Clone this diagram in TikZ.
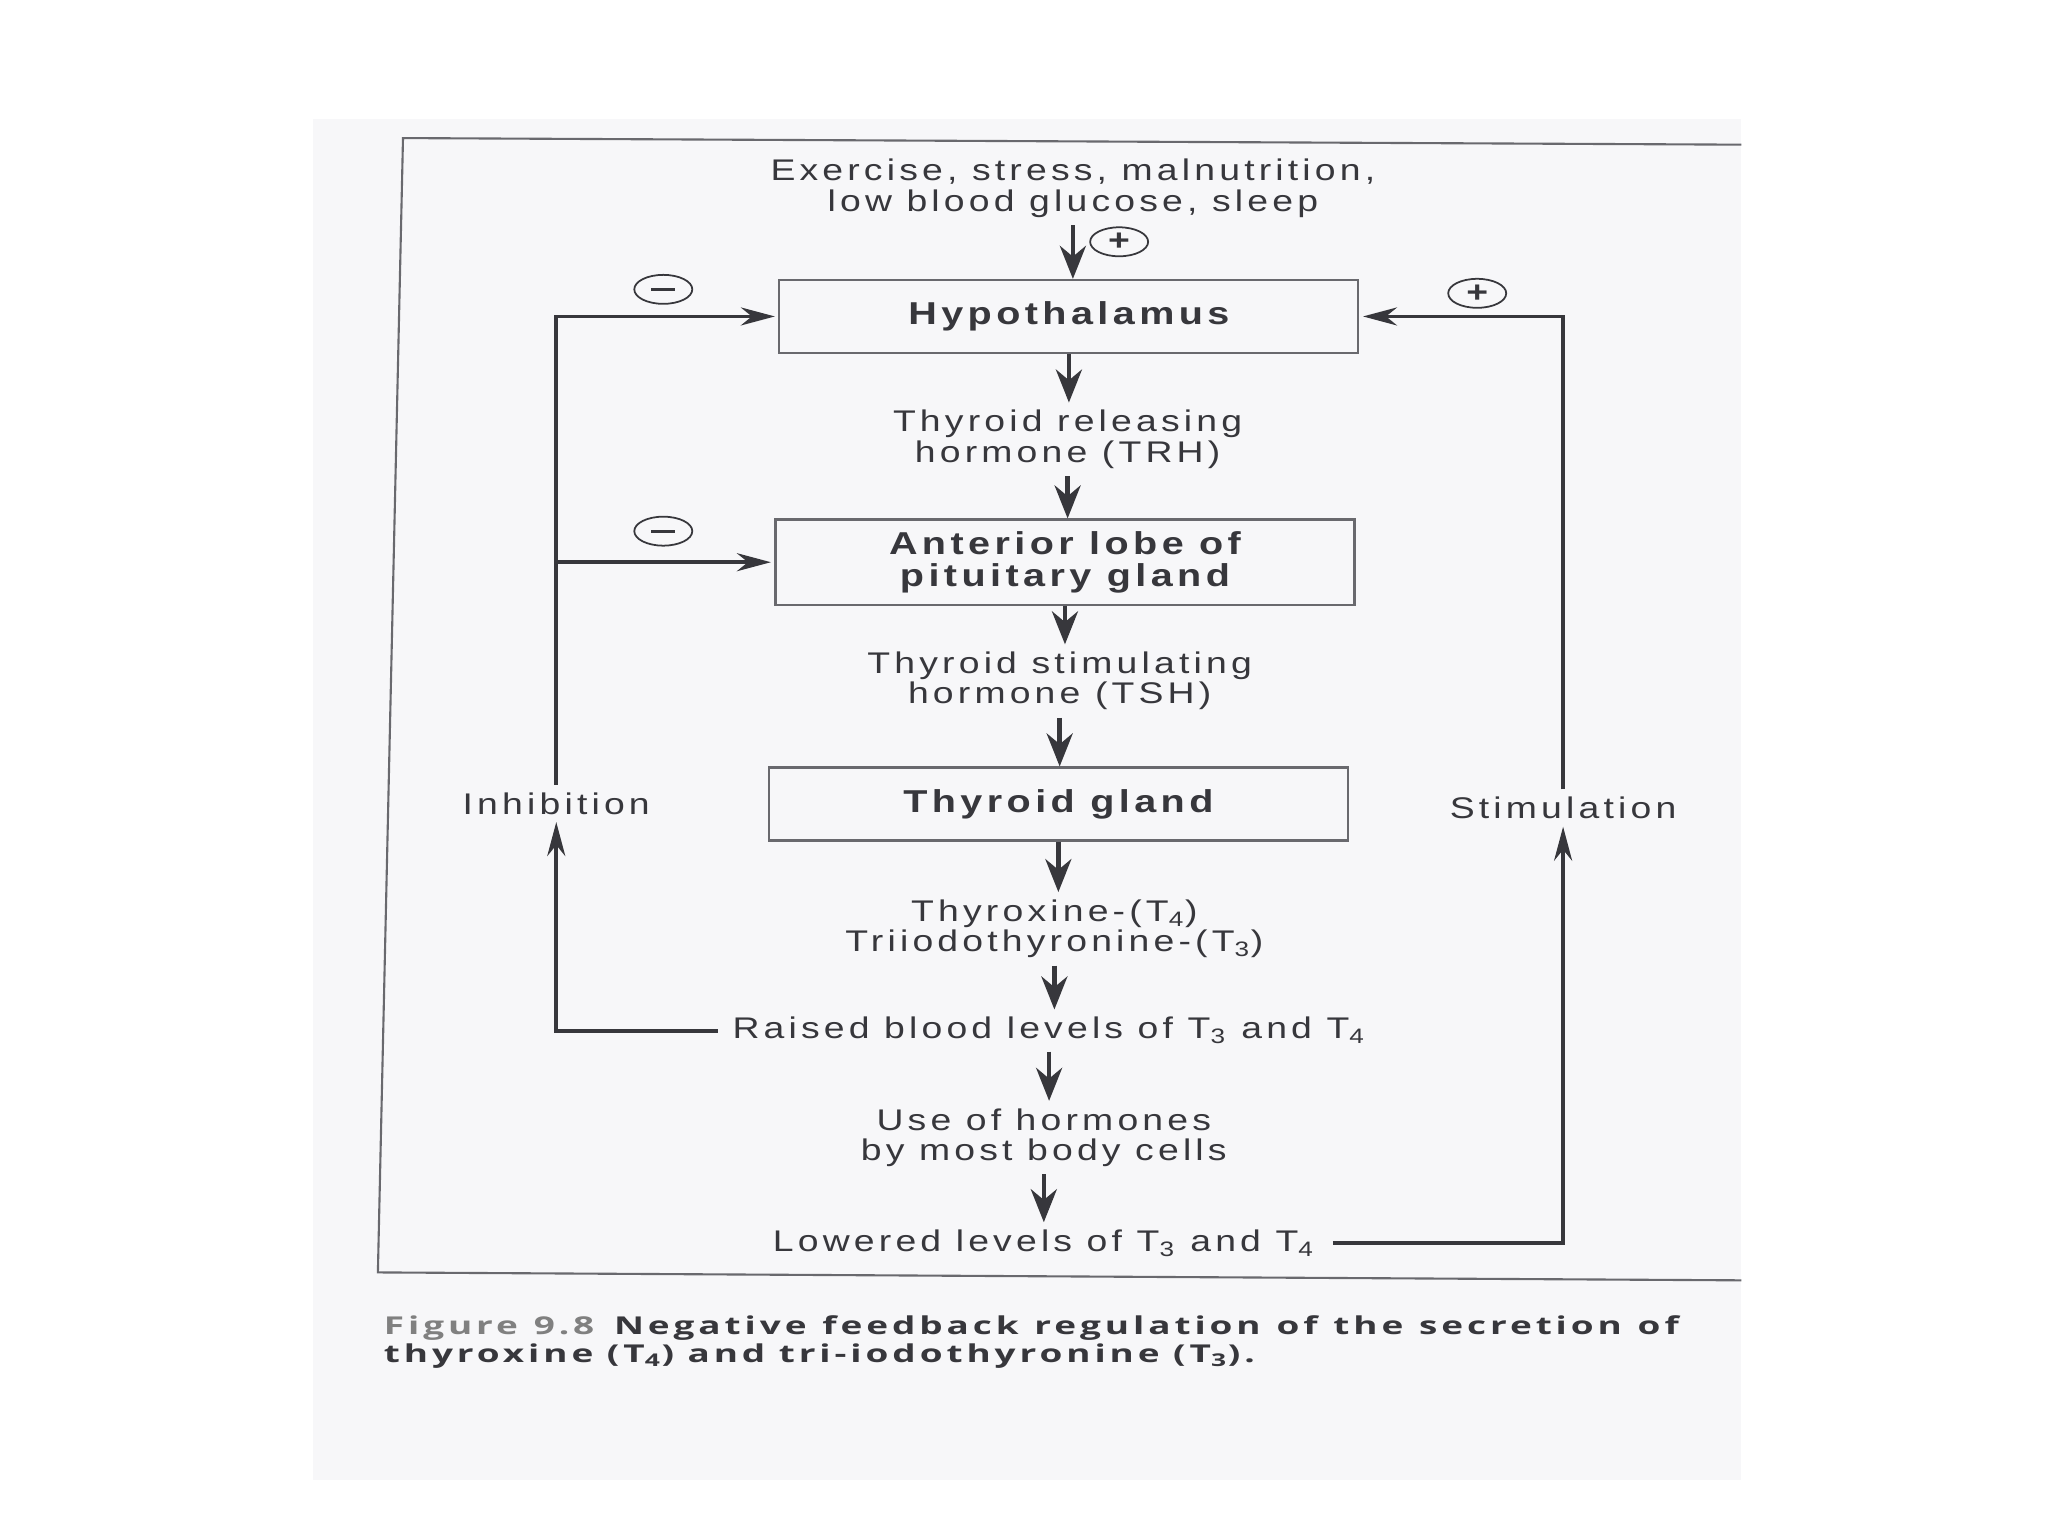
\documentclass[tikz,border=0pt]{standalone}
\usepackage{fontspec}
\setmainfont{Liberation Sans}[FakeStretch=1.25,LetterSpace=14]
\newfontfamily\capfont{Open Sans}[FakeStretch=1.5,LetterSpace=16]
\usetikzlibrary{arrows.meta,shapes.geometric}
\definecolor{ink}{RGB}{55,55,60}
\definecolor{boxgray}{RGB}{105,105,110}
\definecolor{scan}{RGB}{247,247,249}
\newcommand\labelsize{\fontsize{8.5}{8.6}\selectfont}
\newcommand\capsize{\fontsize{7}{8}\selectfont\lineskiplimit=-10pt\relax}
\begin{document}
\begin{tikzpicture}[x=1.3213cm,y=1.3213cm,font=\labelsize,text=ink]

\tikzset{organ/.style={draw=boxgray,line width=0.6pt,rectangle,minimum width=5.79cm,minimum height=0.73cm,font=\fontsize{9}{9.2}\selectfont\bfseries,align=center}}
\tikzset{txt/.style={align=center,inner sep=2pt}}
\tikzset{sign/.style={draw=ink,line width=0.5pt,ellipse,minimum width=0.58cm,minimum height=0.29cm,inner sep=0pt,font=\labelsize\bfseries}}
\tikzset{toNext/.style={->,>={Stealth[length=3.3mm,width=2.6mm]},line width=1.3pt,draw=ink}}
\tikzset{toBack/.style={->,>={Stealth[length=3.4mm,width=1.8mm]},line width=1.1pt,draw=ink}}

\useasboundingbox (0,0) rectangle (15.5,11.625);
\fill[scan] (2.37,0.425) rectangle (13.18,10.725);

\node[txt] (cause) at (8.12,10.20) {Exercise, stress, malnutrition,\\low blood glucose, sleep};
\node[organ] (hypo) at (8.09,9.23) {Hypothalamus};
\node[txt] (trh) at (8.08,8.30) {Thyroid releasing\\hormone (TRH)};
\node[organ] (pit) at (8.06,7.37) {Anterior lobe of\\pituitary gland};
\node[txt] (tsh) at (8.02,6.47) {Thyroid stimulating\\hormone (TSH)};
\node[organ] (thy) at (8.01,5.54) {Thyroid gland};
\node[txt] (hormones) at (7.98,4.595) {Thyroxine-(T\textsubscript{4})\\Triiodothyronine-(T\textsubscript{3})};
\node[txt] (raised) at (7.94,3.825) {Raised blood levels of T\textsubscript{3} and T\textsubscript{4}};
\node[txt] (use) at (7.90,3.015) {Use of hormones\\by most body cells};
\node[txt] (lowered) at (7.90,2.215) {Lowered levels of T\textsubscript{3} and T\textsubscript{4}};

\node[txt] (inhib) at (4.21,5.545) {Inhibition};
\node[txt] (stim) at (11.83,5.51) {Stimulation};

\node[sign] (p0) at (8.47,9.795) {+};
\node[sign] (m1) at (5.02,9.435) {\rule{2.4mm}{0.9pt}};
\node[sign] (m2) at (5.02,7.605) {\rule{2.4mm}{0.9pt}};
\node[sign] (p1) at (11.18,9.405) {+};

\draw[toNext] (cause.south) -- (cause.south |- hypo.north);
\draw[toNext] (hypo.south) -- (hypo.south |- trh.north);
\draw[toNext] (trh.south) -- (trh.south |- pit.north);
\draw[toNext] (pit.south) -- (pit.south |- tsh.north);
\draw[toNext] (tsh.south) -- (tsh.south |- thy.north);
\draw[toNext] (thy.south) -- (thy.south |- hormones.north);
\draw[toNext] (hormones.south) -- (hormones.south |- raised.north);
\draw[toNext] (raised.south) -- (raised.south |- use.north);
\draw[toNext] (use.south) -- (use.south |- lowered.north);

\draw[toBack,shorten <=2pt] (raised.west) -| (inhib.south);
\draw[toBack,shorten >=1pt] (inhib.north) |- (hypo.west);
\draw[toBack,shorten >=1pt] (inhib.north |- pit.west) -- (pit.west);
\draw[toBack,shorten <=3pt] (lowered.east) -| (stim.south);
\draw[toBack,shorten >=1pt] (stim.north) |- (hypo.east);

\node[anchor=west,inner sep=0pt,align=left,font=\capfont\capsize\bfseries] (caption) at (2.90,1.47) {\makebox[12.95cm][s]{\textcolor{gray}{Figure 9.8}\hspace{0.8em}Negative feedback regulation of the secretion of}\\thyroxine (T\textsubscript{4}) and tri-iodothyronine (T\textsubscript{3}).};

\draw[boxgray,line width=0.6pt] (13.18,10.53) -- (3.05,10.58) -- (2.86,1.995) -- (13.18,1.935);

\end{tikzpicture}
\end{document}
